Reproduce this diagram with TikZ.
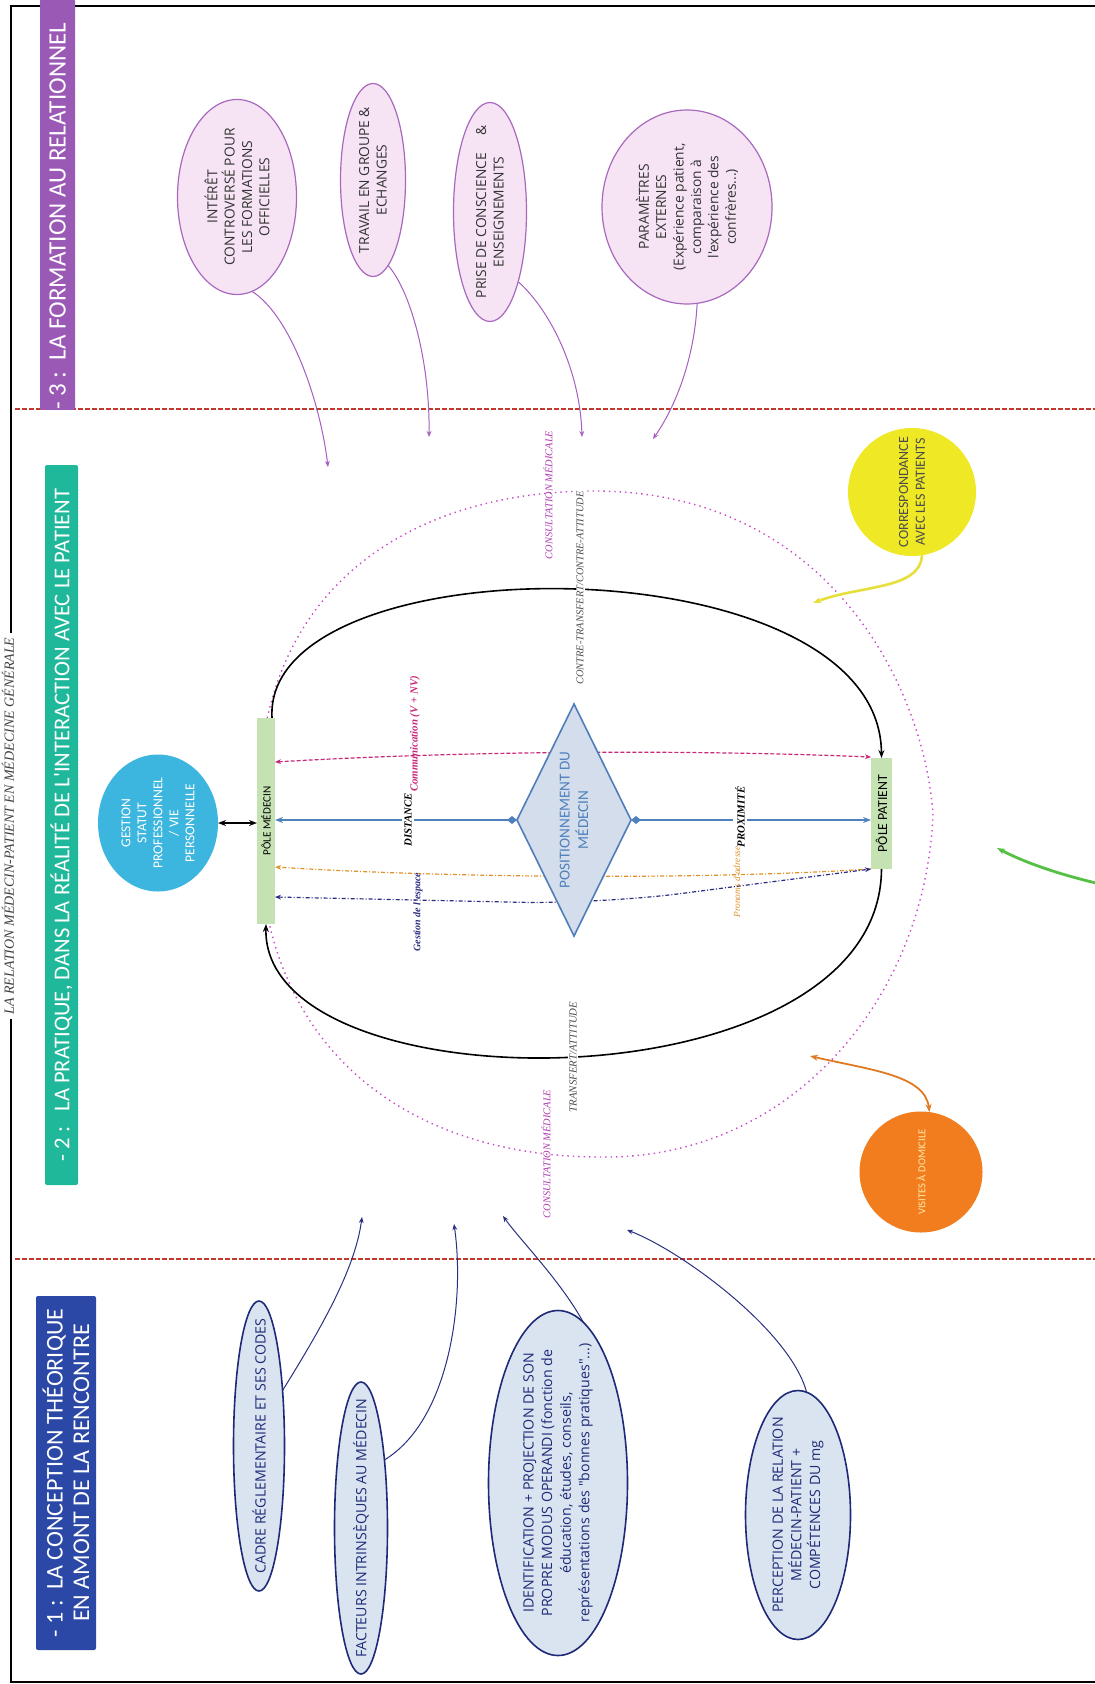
\documentclass[tikz,border=0pt]{standalone}
\usepackage{fontspec}
\usetikzlibrary{shapes.geometric,arrows.meta,calc}
\newfontfamily\carl{Carlito}
\newfontfamily\osans{Open Sans}
\newfontfamily\tmsr{Liberation Serif}
\definecolor{purpleb}{HTML}{9B59B6}
\definecolor{tealb}{HTML}{1FB89A}
\definecolor{blueb}{HTML}{2B48A6}
\definecolor{ellpink}{HTML}{F6E4F4}
\definecolor{ellpurple}{HTML}{A868BE}
\definecolor{ellblue}{HTML}{DAE4F0}
\definecolor{ellnavy}{HTML}{1E2A78}
\definecolor{navyar}{HTML}{2A3080}
\definecolor{purpar}{HTML}{A55FC0}
\definecolor{cyanc}{HTML}{3CB6DE}
\definecolor{greenbar}{HTML}{C4E2B2}
\definecolor{diafill}{HTML}{D3DDEB}
\definecolor{diadraw}{HTML}{4F7DB9}
\definecolor{bluetxt}{HTML}{4F81BD}
\definecolor{commcol}{HTML}{C8287A}
\definecolor{orcol}{HTML}{E0922A}
\definecolor{navycol}{HTML}{2C2C82}
\definecolor{pinkdotc}{HTML}{C848C8}
\definecolor{consc}{HTML}{B03AB0}
\definecolor{yellowc}{HTML}{EEE825}
\definecolor{yellowar}{HTML}{E6DF3C}
\definecolor{orangec}{HTML}{F27D1E}
\definecolor{orangear}{HTML}{E07A22}
\definecolor{greenar}{HTML}{55C043}
\definecolor{reddash}{HTML}{C0392B}
\definecolor{orangetxt}{HTML}{FFE9A8}
\pgfdeclarelayer{bg}
\pgfsetlayers{bg,main}
\begin{document}
\begin{tikzpicture}[x=0.5pt,y=-0.5pt,
  rot/.style={rotate=90, align=center, inner sep=0pt},
  shp/.style 2 args={minimum width=#1, minimum height=#2, inner sep=0pt, outer sep=0pt},
  pinkell/.style={ellipse, draw=ellpurple, fill=ellpink, line width=0.6pt},
  blueell/.style={ellipse, draw=ellnavy, fill=ellblue, line width=0.8pt},
  etxt/.style={rot, font=\osans\fontsize{6.9}{8.7}\selectfont, text=black!80},
  ftxt/.style={rot, font=\osans\fontsize{7.1}{9.3}\selectfont, text=ellnavy},
  banner/.style={rotate=90, text=white, inner sep=0pt, rounded corners=1pt, align=center},
  slbl/.style={rot, font=\tmsr\itshape\fontsize{5.2}{6}\selectfont},
  bslbl/.style={rot, font=\tmsr\bfseries\itshape\fontsize{5.4}{6}\selectfont},
  tip/.tip={Stealth[length=4pt,width=3pt]},
  stip/.tip={Stealth[length=3pt,width=2.4pt]},
  purparr/.style={draw=purpar, line width=0.5pt, -stip},
  navyarr/.style={draw=navyar, line width=0.5pt, -stip},
  blk/.style={draw=black, line width=0.8pt, -tip},
  blueln/.style={draw=bluetxt, line width=0.8pt, {Diamond[length=5pt,width=4pt]}-tip},
  pinkdot/.style={draw=pinkdotc, line width=0.7pt, dotted},
  reddsh/.style={draw=reddash, line width=0.8pt, dash pattern=on 2.5pt off 1pt}
]
\useasboundingbox (0,0) rectangle (1095,1684);

% ---------- banners ----------
\node[banner, fill=purpleb, minimum width=203.5pt, minimum height=17.5pt,
      font=\carl\fontsize{12.5}{13}\selectfont] (B3) at (57.5,204.5)
      {- 3 :\ \ LA FORMATION AU RELATIONNEL\hspace{12pt}};
\node[banner, fill=tealb, minimum width=360pt, minimum height=16.5pt,
      font=\carl\fontsize{11.3}{13}\selectfont] (B2) at (61.5,825)
      {- 2 :\ \ \ LA PRATIQUE, DANS LA RÉALITÉ DE L'INTERACTION AVEC LE PATIENT};
\node[banner, fill=blueb, minimum width=177pt, minimum height=30pt,
      font=\carl\fontsize{12}{13.2}\selectfont] (B1) at (66,1473)
      {- 1 :\ \ LA CONCEPTION THÉORIQUE\\EN AMONT DE LA RENCONTRE};

\node[rot, inner sep=2pt, font=\tmsr\itshape\fontsize{7}{8}\selectfont, text=black!75]
      (T) at (8,826) {LA RELATION MÉDECIN-PATIENT EN MÉDECINE GÉNÉRALE};

% ---------- section 3 ellipses ----------
\node[pinkell, shp={59.5pt}{97.5pt}] (E1) at (237,197) {};
\node[etxt] (E1t) at (E1) {INTÉRÊT\\CONTROVERSÉ POUR\\LES FORMATIONS\\OFFICIELLES};
\node[pinkell, shp={32.5pt}{96.5pt}] (E2) at (373,180) {};
\node[etxt] (E2t) at (E2) {TRAVAIL EN GROUPE \&\\ECHANGES};
\node[pinkell, shp={36.5pt}{109.5pt}] (E3) at (490,212) {};
\node[etxt] (E3t) at (E3) {PRISE DE CONSCIENCE\quad\ \&\\ENSEIGNEMENTS};
\node[pinkell, shp={85pt}{97pt}] (E4) at (687,207) {};
\node[etxt] (E4t) at (E4) {PARAMÈTRES\\EXTERNES\\(Expérience patient,\\comparaison à\\l'expérience des\\confrères...)};

% ---------- section 1 ellipses ----------
\node[blueell, shp={25.5pt}{145pt}] (F1) at (259,1446) {};
\node[ftxt] (F1t) at (F1) {CADRE RÉGLEMENTAIRE ET SES CODES};
\node[blueell, shp={26.5pt}{146pt}] (F2) at (361,1528) {};
\node[ftxt] (F2t) at (F2) {FACTEURS INTRINSÈQUES AU MÉDECIN};
\node[blueell, shp={69.5pt}{172.5pt}] (F3) at (558,1483) {};
\node[ftxt] (F3t) at (F3) {IDENTIFICATION + PROJECTION DE SON\\PROPRE MODUS OPERANDI (fonction de\\éducation, études, conseils,\\représentations des "bonnes pratiques"...)};
\node[blueell, shp={52.5pt}{124.5pt}] (F4) at (798,1515) {};
\node[ftxt] (F4t) at (F4) {PERCEPTION DE LA RELATION\\MÉDECIN-PATIENT +\\COMPÉTENCES DU mg};

% ---------- section 2 nodes ----------
\node[fill=greenbar, shp={9pt}{103pt}] (PM) at (266,821) {};
\node[rot, font=\carl\fontsize{5.6}{6}\selectfont] (PMt) at (PM) {PÔLE MÉDECIN};
\node[fill=greenbar, shp={10.5pt}{55.5pt}] (PP) at (881.5,813.5) {};
\node[rot, font=\carl\fontsize{6.9}{7}\selectfont] (PPt) at (PP) {PÔLE PATIENT};
\node[diamond, draw=diadraw, fill=diafill, line width=0.8pt, shp={57pt}{116pt}] (D) at (574,820) {};
\node[rot, font=\carl\fontsize{7.6}{9.3}\selectfont, text=bluetxt] (Dt) at (D) {POSITIONNEMENT DU\\MÉDECIN};
\node[ellipse, fill=cyanc, shp={60pt}{68.5pt}] (G) at (158,823) {};
\node[rot, font=\carl\fontsize{6.8}{8}\selectfont, text=white] (Gt) at (G) {GESTION\\STATUT\\PROFESSIONNEL\\/ VIE\\PERSONNELLE};
\node[ellipse, fill=yellowc, shp={64pt}{64pt}] (Y) at (912,492) {};
\node[rot, font=\carl\fontsize{7}{8.4}\selectfont, text=black!70] (Yt) at (Y) {CORRESPONDANCE\\AVEC LES PATIENTS};
\node[ellipse, fill=orangec, shp={61.5pt}{60.5pt}] (O) at (921,1172) {};
\node[rot, font=\carl\fontsize{5.3}{6}\selectfont, text=orangetxt] (Ot) at (O) {VISITES À DOMICILE};

% ---------- labels ----------
\node[bslbl, fill=white, inner sep=1pt] (lDist) at (408,820) {DISTANCE};
\node[bslbl, fill=white, inner sep=1pt] (lProx) at (740,817) {PROXIMITÉ};
\node[bslbl, text=commcol] (lComm) at (415,734) {Communication (V + NV)};
\node[bslbl, text=navycol, font=\tmsr\bfseries\itshape\fontsize{5}{6}\selectfont] (lGest) at (418,912) {Gestion de l'espace};
\node[slbl, text=orcol, font=\tmsr\itshape\fontsize{4.7}{6}\selectfont] (lPron) at (737,882) {Pronoms d'adresse};
\node[slbl, text=consc] (lCons1) at (548,495) {CONSULTATION MÉDICALE};
\node[slbl, text=consc] (lCons2) at (546,1154) {CONSULTATION MÉDICALE};
\node[slbl, text=black!70, fill=white, inner sep=0.5pt] (lCT) at (580,588) {CONTRE-TRANSFERT/CONTRE-ATTITUDE};
\node[slbl, text=black!70, fill=white, inner sep=0.5pt, font=\tmsr\itshape\fontsize{5.4}{6}\selectfont] (lT) at (573,1057) {TRANSFERT/ATTITUDE};

% ---------- free coordinates ----------
\coordinate (a1) at (328,467);
\coordinate (a2) at (429,437);
\coordinate (a3) at (582,437);
\coordinate (a4) at (653,439);
\coordinate (b1) at (362,1217);
\coordinate (b2) at (454,1224);
\coordinate (b3) at (503,1216);
\coordinate (b4) at (627,1230);
\coordinate (pl) at (259,820);
\coordinate (ptop) at (594,491);
\coordinate (pr) at (933,815);
\coordinate (pbot) at (600,1157);
\coordinate (yend) at (813,603);
\coordinate (oend) at (810,1056);
\coordinate (g0) at (1096,883);
\coordinate (g1) at (997,848);

\begin{pgfonlayer}{bg}
\fill[white] (0,0) rectangle (1095,1684);
% frame
\draw[line width=0.6pt] (T.east -| 11,0) -- (11,6) -- (1095,6);
\draw[line width=0.6pt] (T.west -| 11,0) -- (11,1682) -- (1095,1682);
\draw[reddsh] (15,409) -- (1095,409);
\draw[reddsh] (15,1259) -- (1095,1259);

% consultation dotted shape
\draw[pinkdot] (pl) .. controls (250,580) and (420,491) .. (ptop)
   .. controls (830,491) and (925,690) .. (pr)
   .. controls (925,1000) and (790,1160) .. (pbot)
   .. controls (420,1157) and (255,1060) .. (pl);

% black arcs
\draw[blk] ([xshift=-1.5pt]PM.north east) .. controls (262,540) and (880,540) .. (PP.north);
\draw[blk] (PP.south) .. controls (880,1110) and (262,1110) .. (PM.south);

% horizontal relations
\draw[draw=commcol, line width=0.6pt, dash pattern=on 2pt off 1pt, stip-stip]
   (PM.east |- 0,762) .. controls (480,750) and (700,750) .. (PP.west |- 0,757);
\draw[blueln] (D.west) -- (PM.east |- D.west);
\draw[blueln] (D.east) -- (PP.west |- D.east);
\draw[draw=orcol, line width=0.6pt, dash pattern=on 2pt off 1pt on 0.5pt off 1pt, -stip]
   (PP.south west) .. controls (700,880) and (450,878) .. (PM.east |- 0,867);
\draw[draw=navycol, line width=0.6pt, dash pattern=on 2pt off 1pt on 0.5pt off 1pt, stip-stip, rounded corners=40pt]
   (PM.east |- 0,897) -- (600,904) -- (PP.south west);
\draw[line width=0.8pt, tip-tip] (G.east) -- (PM.west |- G.east);

% section 3 arrows
\draw[purparr] (E1.-81) .. controls (290,315) and (320,400) .. (a1);
\draw[purparr] (E2.-80) .. controls (410,290) and (430,360) .. (a2);
\draw[purparr] (E3.-68) .. controls (550,310) and (580,370) .. (a3);
\draw[purparr] (E4.-84) .. controls (695,350) and (680,400) .. (a4);

% section 1 arrows
\draw[navyarr] (F1.67) .. controls (320,1330) and (355,1270) .. (b1);
\draw[navyarr] (F2.71) .. controls (450,1420) and (465,1300) .. (b2);
\draw[navyarr] (F3.81) .. controls (560,1280) and (520,1240) .. (b3);
\draw[navyarr] (F4.86) .. controls (790,1330) and (680,1250) .. (b4);

% coloured arrows
\draw[draw=yellowar, line width=1.3pt, -tip] (Y.-81) .. controls (920,590) and (860,585) .. (yend);
\draw[draw=orangear, line width=0.9pt, tip-tip] (O.82) .. controls (925,1075) and (870,1070) .. (oend);
\draw[draw=greenar, line width=1.4pt, -tip] (g0) .. controls (1050,872) and (1020,860) .. (g1);
\end{pgfonlayer}
\end{tikzpicture}
\end{document}
